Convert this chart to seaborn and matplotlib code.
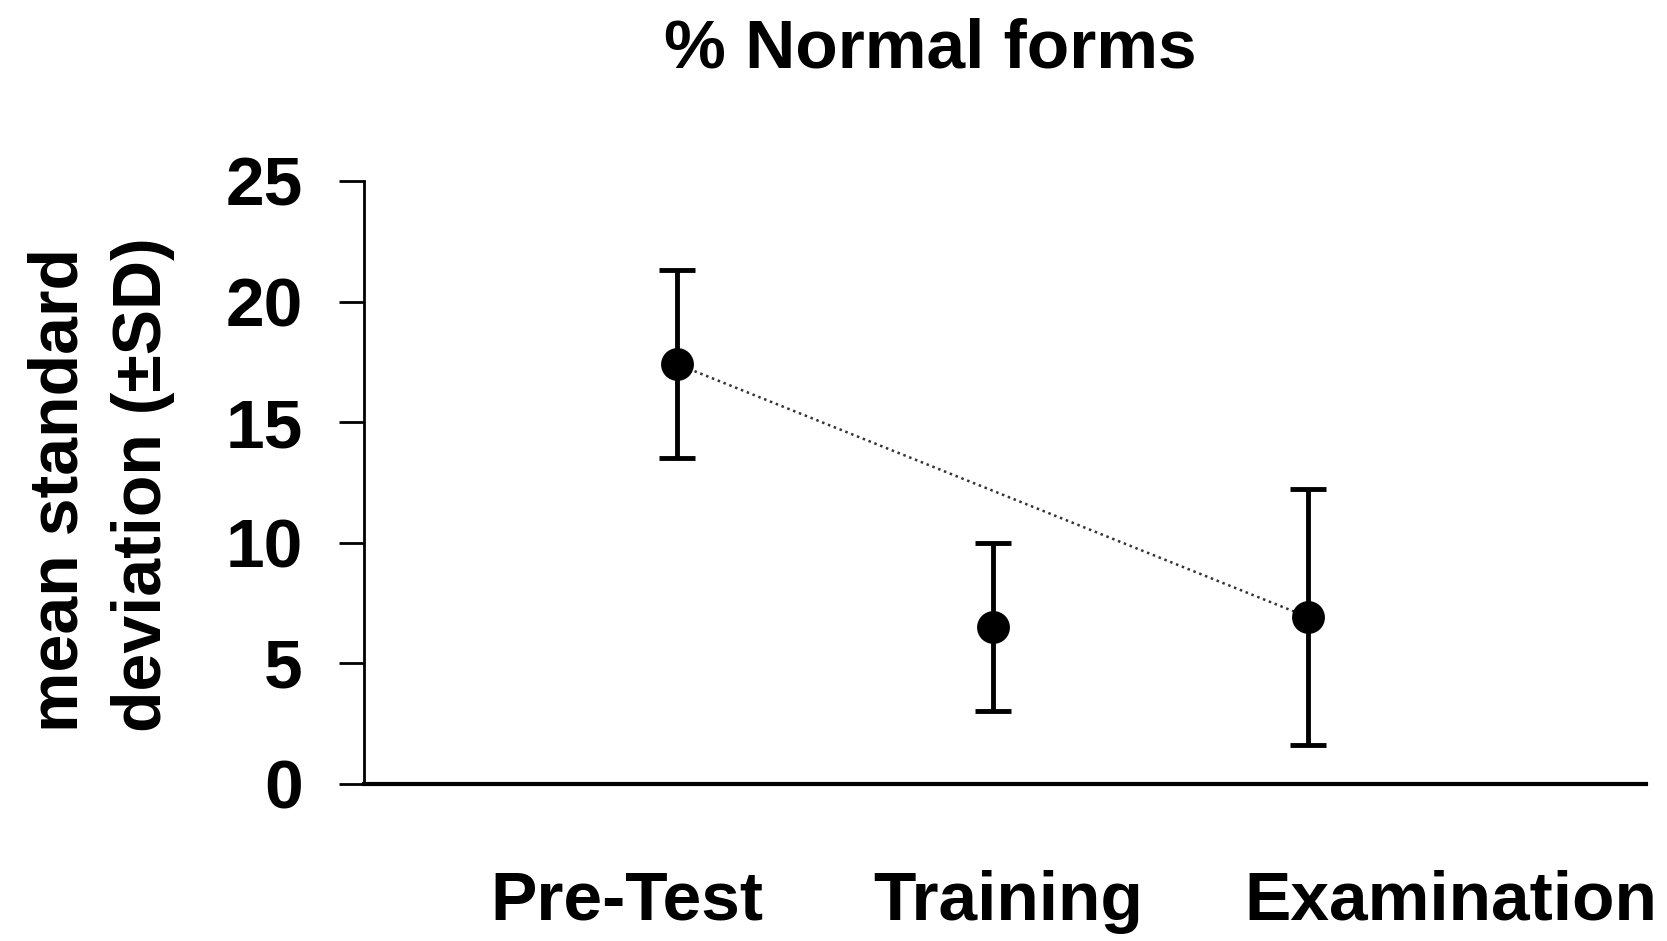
import matplotlib
matplotlib.use("Agg")
import matplotlib.pyplot as plt
import seaborn as sns
import pandas as pd

# Summary values per phase
phases = ["Pre-Test", "Training", "Examination"]
means = [17.4, 6.5, 6.9]
sds = [3.9, 3.5, 5.3]

# Phases joined by the dotted trend line
trend_phases = ["Pre-Test", "Examination"]

title = "% Normal forms"
ylabel = "mean standard\ndeviation (\u00b1SD)"
yticks = [0, 5, 10, 15, 20, 25]

sns.set_theme(style="white")
plt.rcParams["font.family"] = ["Liberation Sans", "DejaVu Sans"]
plt.rcParams["font.weight"] = "bold"

df = pd.DataFrame({"phase": phases, "mean": means, "sd": sds})
df["pos"] = range(len(df))
trend = df[df["phase"].isin(trend_phases)]

fig = plt.figure(figsize=(16.67, 9.41), dpi=100)
ax = fig.add_axes([364 / 1667, 1 - 783.5 / 941, (1646 - 364) / 1667, (783.5 - 181) / 941])

sns.lineplot(data=trend, x="pos", y="mean", ax=ax, color="#333333",
             linestyle=(0, (1, 1.5)), linewidth=1.8, zorder=2)
ax.errorbar(df["pos"], df["mean"], yerr=df["sd"], fmt="none", ecolor="black",
            elinewidth=3.5, capsize=13, capthick=3.5, zorder=3)
sns.scatterplot(data=df, x="pos", y="mean", ax=ax, color="black", s=560,
                edgecolor="black", linewidth=0, zorder=4)

ax.set_xlim(-0.992, 3.07)
ax.set_ylim(0, 25)
ax.set_yticks(yticks)
ax.set_yticklabels([str(t) for t in yticks], fontweight="bold")

# category labels sit slightly off the marker columns
label_offsets = [-0.16, 0.05, 0.45]
ax.set_xticks([p + o for p, o in zip(df["pos"], label_offsets)])
ax.set_xticklabels(phases, fontweight="bold")

ax.set_xlabel("")
ax.set_ylabel("")

for side in ["top", "right"]:
    ax.spines[side].set_visible(False)
ax.spines["left"].set_linewidth(2)
ax.spines["bottom"].set_linewidth(3)
ax.spines["left"].set_color("black")
ax.spines["bottom"].set_color("black")

ax.tick_params(axis="y", direction="out", length=18, width=2, color="black",
               pad=26, labelsize=50, left=True)
ax.tick_params(axis="x", length=0, pad=62, labelsize=50)
for lab in ax.get_xticklabels() + ax.get_yticklabels():
    lab.set_color("black")

fig.text(101 / 1667, 1 - 485 / 941, ylabel, rotation=90, ha="center", va="center",
         fontsize=49, fontweight="bold", multialignment="left", linespacing=1.4,
         color="black")
fig.text(930 / 1667, 1 - 50 / 941, title, ha="center", va="center",
         fontsize=50, fontweight="bold", color="black")

fig.savefig("out.png", dpi=100, facecolor="white")
